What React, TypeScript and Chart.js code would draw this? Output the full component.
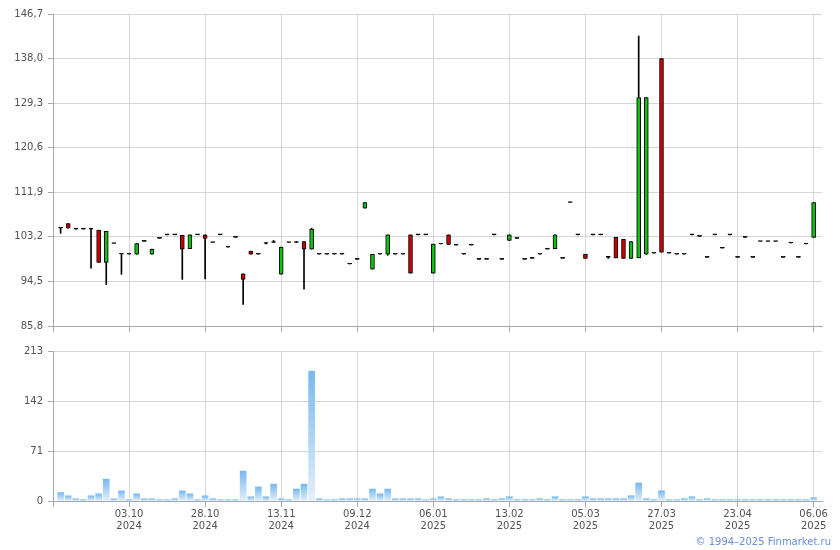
import React, { useEffect, useRef } from 'react';
import { Chart, registerables } from 'chart.js';

Chart.register(...registerables);

// ---- data ----
const opens = [
  104.9, 105.8, 104.7, 104.7, 104.7, 104.5, 98.2, 101.9, 99.8, 99.8,
  99.8, 102.3, 99.8, 102.9, 103.6, 103.6, 103.5, 100.9, 103.6, 103.6,
  102.1, 103.6, 101.2, 103.1, 96.0, 100.4, 99.8, 101.9, 102.1, 95.9,
  102.1, 102.1, 102.3, 100.8, 99.8, 99.8, 99.8, 99.8, 97.9, 98.8,
  108.8, 96.9, 99.8, 99.8, 99.8, 99.8, 103.6, 103.6, 103.6, 96.1,
  101.8, 103.6, 101.6, 99.8, 101.6, 98.8, 98.8, 103.6, 98.8, 102.5,
  102.9, 98.8, 99.0, 99.8, 100.8, 100.9, 99.0, 109.9, 103.6, 99.8,
  103.6, 103.6, 99.2, 103.1, 102.7, 99.0, 99.1, 99.8, 100.0, 138.0,
  100.0, 99.8, 99.8, 103.6, 103.3, 99.2, 103.6, 101.0, 103.6, 99.2,
  103.1, 99.2, 102.3, 102.3, 102.3, 99.2, 102.0, 99.2, 101.8, 103.1,
];
const closes = [
  104.9, 104.9, 104.7, 104.7, 104.7, 98.2, 104.3, 101.9, 99.8, 99.8,
  101.9, 102.5, 100.8, 102.9, 103.6, 103.6, 100.8, 103.6, 103.6, 102.9,
  102.1, 103.6, 101.2, 103.1, 94.9, 99.8, 99.8, 101.9, 102.1, 101.2,
  102.1, 102.1, 100.8, 104.7, 99.8, 99.8, 99.8, 99.8, 97.9, 98.8,
  109.9, 99.8, 99.8, 103.6, 99.8, 99.8, 96.1, 103.6, 103.6, 101.8,
  101.8, 101.7, 101.6, 99.8, 101.6, 98.8, 98.8, 103.6, 98.8, 103.6,
  102.9, 98.8, 99.0, 99.8, 100.8, 103.6, 99.0, 109.9, 103.6, 99.0,
  103.6, 103.6, 99.2, 99.1, 99.0, 102.3, 130.4, 130.4, 100.0, 100.2,
  100.0, 99.8, 99.8, 103.6, 103.3, 99.2, 103.6, 101.0, 103.6, 99.2,
  103.1, 99.2, 102.3, 102.3, 102.3, 99.2, 102.0, 99.2, 101.8, 109.9,
];
const highs = [
  104.9, 105.8, 104.7, 104.7, 104.7, 104.5, 104.3, 101.9, 99.8, 99.8,
  101.9, 102.5, 100.8, 102.9, 103.6, 103.6, 103.5, 103.6, 103.6, 103.6,
  102.1, 103.6, 101.2, 103.1, 96.0, 100.4, 99.8, 102.1, 102.5, 101.2,
  102.1, 102.3, 102.3, 104.9, 99.8, 99.8, 99.8, 99.8, 97.9, 98.8,
  109.9, 99.8, 99.8, 103.6, 99.8, 99.8, 103.6, 103.6, 103.6, 101.8,
  101.8, 103.6, 101.6, 99.8, 101.6, 98.8, 98.8, 103.6, 98.8, 103.6,
  102.9, 98.8, 99.0, 99.8, 100.8, 103.6, 99.0, 109.9, 103.6, 99.8,
  103.6, 103.6, 99.4, 103.1, 102.7, 102.3, 142.4, 130.4, 100.0, 138.0,
  100.0, 99.8, 99.8, 103.6, 103.3, 99.2, 103.6, 101.0, 103.6, 99.2,
  103.1, 99.2, 102.3, 102.3, 102.3, 99.2, 102.0, 99.2, 101.8, 109.9,
];
const lows = [
  103.9, 104.9, 104.7, 104.7, 97.1, 98.2, 93.9, 101.9, 95.9, 99.8,
  99.8, 102.3, 99.8, 102.9, 103.6, 103.6, 94.9, 100.9, 103.6, 95.0,
  102.1, 103.6, 101.2, 103.1, 90.0, 99.8, 99.8, 101.8, 102.1, 95.9,
  102.1, 102.1, 93.0, 100.8, 99.8, 99.8, 99.8, 99.8, 97.9, 98.8,
  108.8, 96.9, 99.8, 99.6, 99.8, 99.8, 96.1, 103.6, 103.6, 96.1,
  101.8, 101.7, 101.6, 99.8, 101.6, 98.8, 98.8, 103.6, 98.8, 102.5,
  102.9, 98.8, 99.0, 99.8, 100.8, 100.9, 99.0, 109.9, 103.6, 99.0,
  103.6, 103.6, 99.0, 99.1, 99.0, 99.0, 99.1, 99.8, 100.0, 100.2,
  100.0, 99.8, 99.8, 103.6, 103.3, 99.2, 103.6, 101.0, 103.6, 99.2,
  103.1, 99.2, 102.3, 102.3, 102.3, 99.2, 102.0, 99.2, 101.8, 103.1,
];
const volumes = [
  12, 7.4, 3.2, 1.8, 7.4, 10.2, 31, 3.2, 14.4, 1.8,
  10.2, 3.2, 3.2, 1.8, 1.8, 3.2, 14.4, 10.2, 1.8, 7.4,
  3.2, 1.8, 1.8, 1.8, 42.5, 6, 20, 6, 24, 3.2,
  1.8, 17, 24, 184, 3.2, 1.8, 1.8, 3.2, 3.2, 3.2,
  3.2, 17, 10.2, 17, 3.2, 3.2, 3.2, 3.2, 1.8, 3.2,
  6, 3.3, 1.9, 1.9, 1.9, 1.9, 3.3, 1.9, 3.3, 6.1,
  1.9, 1.9, 1.9, 3.3, 1.9, 6.1, 1.9, 1.9, 1.9, 6.1,
  3.3, 3.3, 3.3, 3.3, 3.3, 7.5, 25.7, 3.3, 1.9, 14.5,
  1.9, 1.9, 3.3, 6.1, 1.9, 3.3, 1.9, 1.9, 1.9, 1.9,
  1.9, 1.9, 1.9, 1.9, 1.9, 1.9, 1.9, 1.9, 1.9, 4.7,
];
const tickIndices = [9, 19, 29, 39, 49, 59, 69, 79, 89, 99];
const tickDates = ['03.10', '28.10', '13.11', '09.12', '06.01', '13.02', '05.03', '27.03', '23.04', '06.06'];
const tickYears = ['2024', '2024', '2024', '2024', '2025', '2025', '2025', '2025', '2025', '2025'];
const priceTicks = [85.8, 94.5, 103.2, 111.9, 120.6, 129.3, 138.0, 146.7];
const volumeTicks = [0, 71, 142, 213];

// ---- styles ----
const FONT = { family: 'DejaVu Sans', size: 10 };
const TEXT = '#505256';
const GRID = '#d3d6da';
const AXIS = '#a6a9b0';
const X_MIN = -1;
const X_MAX = 100.1;

function xScale(showLabels: boolean, height: number) {
  return {
    type: 'linear' as const,
    min: X_MIN,
    max: X_MAX,
    offset: false,
    afterBuildTicks: (s: any) => {
      s.ticks = [X_MIN, ...tickIndices].map((v) => ({ value: v }));
    },
    afterFit: (s: any) => {
      s.height = height;
    },
    ticks: {
      display: showLabels,
      autoSkip: false,
      maxRotation: 0,
      padding: 1,
      font: FONT,
      color: TEXT,
      callback: (v: number) => {
        const k = tickIndices.indexOf(v);
        return k < 0 ? '' : [tickDates[k], tickYears[k]];
      },
    },
    grid: { color: GRID, tickColor: AXIS, tickLength: 6, offset: false },
    border: { color: AXIS },
  };
}

function yScale(min: number, max: number, ticks: number[], fmt: (v: number) => string) {
  return {
    min,
    max,
    afterBuildTicks: (s: any) => {
      s.ticks = ticks.map((v) => ({ value: v }));
    },
    afterFit: (s: any) => {
      s.width = 53;
    },
    ticks: { font: FONT, color: TEXT, padding: 5, callback: (v: number) => fmt(v) },
    grid: { color: GRID, tickColor: AXIS, tickLength: 5 },
    border: { color: AXIS },
  };
}

export default function App() {
  const priceRef = useRef<HTMLCanvasElement>(null);
  const volRef = useRef<HTMLCanvasElement>(null);

  useEffect(() => {
    const bodyColor = (i: number) =>
      closes[i] > opens[i] ? '#11c011' : closes[i] < opens[i] ? '#d00000' : '#000000';

    const price = new Chart(priceRef.current!, {
      type: 'bar',
      data: {
        datasets: [
          {
            label: 'body',
            data: opens.map((o, i) => ({ x: i, y: [o, closes[i]] })) as any,
            backgroundColor: opens.map((_, i) => bodyColor(i)),
            borderColor: '#000000',
            borderWidth: 1,
            borderSkipped: false,
            barThickness: 4,
            minBarLength: 1,
            grouped: false,
            order: 0,
          },
          {
            label: 'wick',
            data: lows.map((l, i) => ({ x: i, y: [l, highs[i]] })) as any,
            backgroundColor: '#000000',
            borderWidth: 0,
            barThickness: 1,
            grouped: false,
            order: 1,
          },
        ],
      },
      options: {
        responsive: false,
        animation: false,
        devicePixelRatio: 1,
        layout: { padding: { top: 14, right: 18, left: 0, bottom: 0 } },
        plugins: { legend: { display: false }, tooltip: { enabled: false } },
        scales: {
          x: xScale(false, 14) as any,
          y: yScale(85.8, 146.7, priceTicks, (v) => v.toFixed(1).replace('.', ',')) as any,
        },
      },
    });

    const vol = new Chart(volRef.current!, {
      type: 'bar',
      data: {
        datasets: [
          {
            label: 'volume',
            data: volumes.map((v, i) => ({ x: i, y: v })),
            backgroundColor: (ctx: any) => {
              const chart = ctx.chart;
              const ys = chart.scales && chart.scales.y;
              if (ctx.type !== 'data' || !ys) return '#9ccaf2';
              const top = ys.getPixelForValue(volumes[ctx.dataIndex]);
              const base = ys.getPixelForValue(0);
              if (!isFinite(top) || !isFinite(base) || top === base) return '#9ccaf2';
              const g = chart.ctx.createLinearGradient(0, top, 0, base);
              g.addColorStop(0, '#78b9ef');
              g.addColorStop(1, '#e3effa');
              return g;
            },
            borderWidth: 0,
            barThickness: 6,
          },
        ],
      },
      options: {
        responsive: false,
        animation: false,
        devicePixelRatio: 1,
        layout: { padding: { top: 9, right: 18, left: 0, bottom: 0 } },
        plugins: { legend: { display: false }, tooltip: { enabled: false } },
        scales: {
          x: xScale(true, 49) as any,
          y: yScale(0, 213, volumeTicks, (v) => String(v)) as any,
        },
      },
    });

    return () => {
      price.destroy();
      vol.destroy();
    };
  }, []);

  return (
    <div style={{ position: 'absolute', left: 0, top: 0, width: 840, height: 550, background: '#ffffff', overflow: 'hidden' }}>
      <canvas ref={priceRef} width={840} height={340} style={{ position: 'absolute', left: 0, top: 0 }} />
      <canvas ref={volRef} width={840} height={210} style={{ position: 'absolute', left: 0, top: 340 }} />
      <div
        style={{
          position: 'absolute',
          right: 9,
          top: 536,
          fontFamily: 'DejaVu Sans',
          fontSize: 10,
          lineHeight: '12px',
          color: '#6c8fd8',
          whiteSpace: 'nowrap',
        }}
      >
        © 1994–2025 Finmarket.ru
      </div>
    </div>
  );
}
